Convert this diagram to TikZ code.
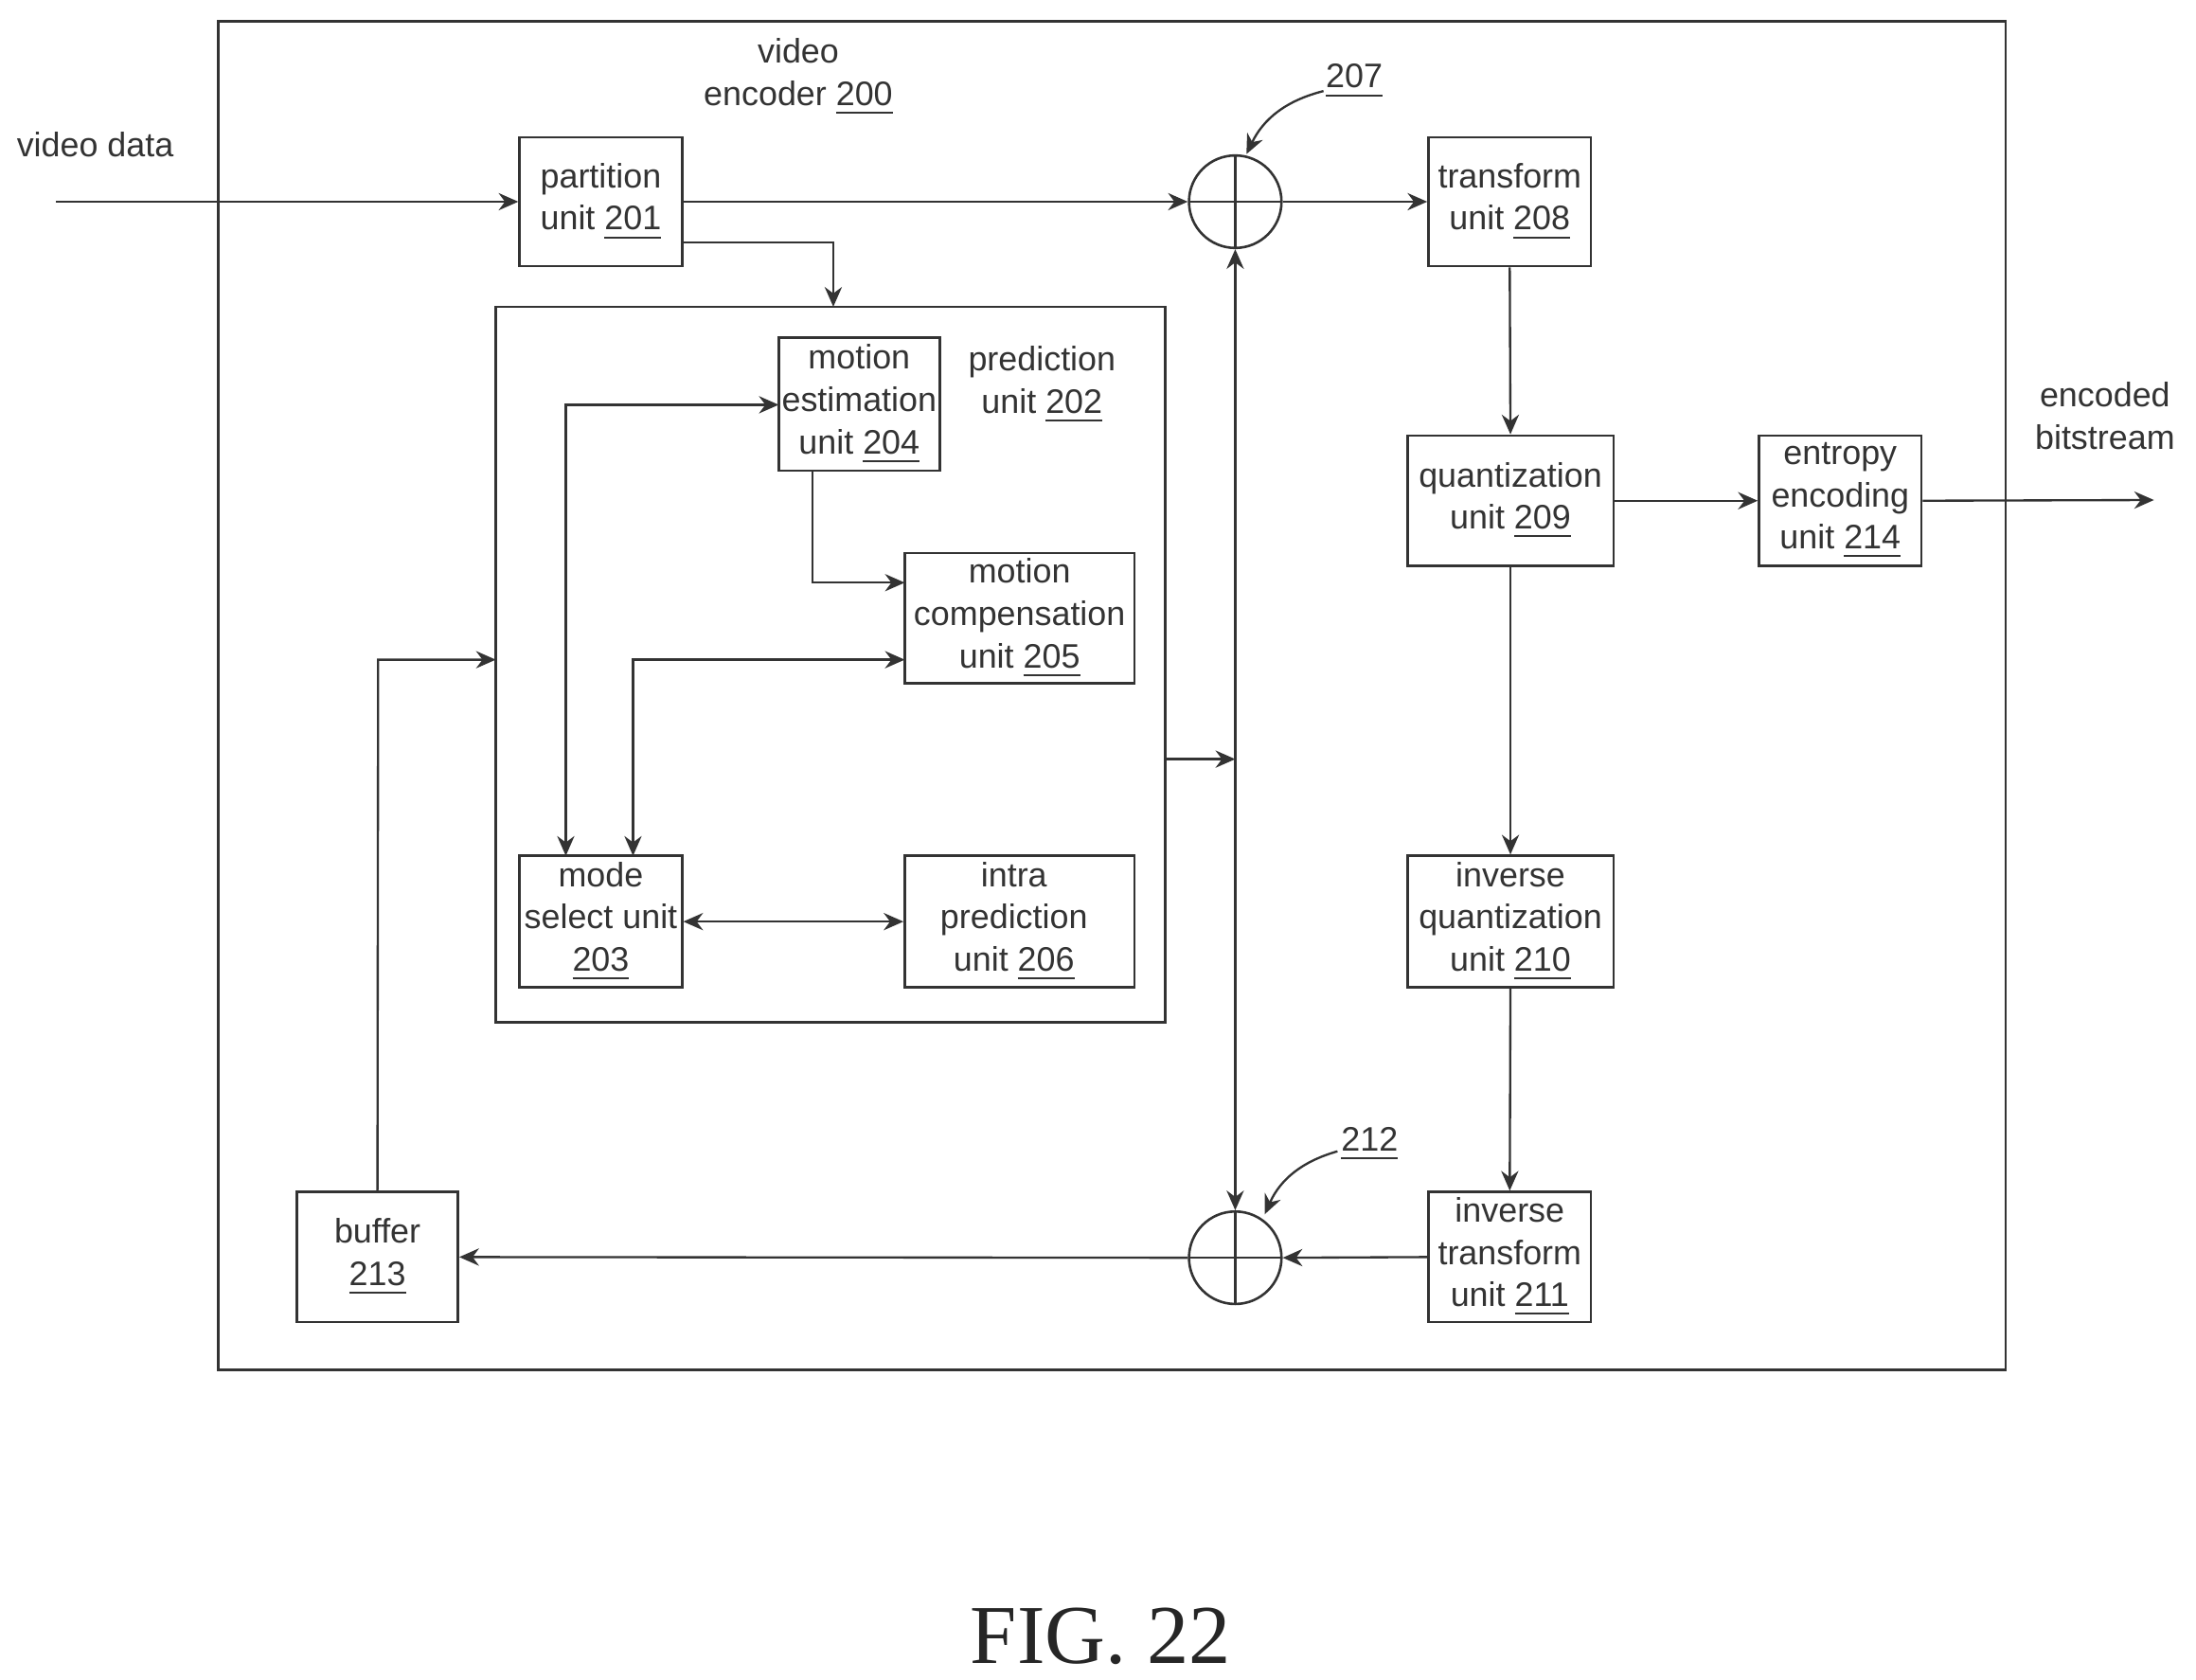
\documentclass[tikz,border=0pt]{standalone}
\usepackage{fontspec}
\setmainfont{Liberation Sans}
\newfontfamily\figfont{Liberation Serif}
\usetikzlibrary{arrows.meta}
\begin{document}
\begin{tikzpicture}[x=0.01cm,y=-0.01cm,
  txt/.style={font=\fontsize{6.9}{8.6}\selectfont,align=center,text=black!80},
  box/.style={draw=black!80,line width=0.5pt},
  ar/.style={-{Stealth[length=4pt,width=3.5pt]},line width=0.45pt,draw=black!80},
  dar/.style={{Stealth[length=4pt,width=3.5pt]}-{Stealth[length=4pt,width=3.5pt]},line width=0.45pt,draw=black!80}]
\useasboundingbox (0,0) rectangle (1568,1199);
\draw[box] (156,15) rectangle (1432,978);
\draw[box] (354,219) rectangle (832,730);
\node[box,minimum width=1.16cm,minimum height=0.92cm] (p201) at (429,144) {};
\node[txt] at (429,144) {partition\\unit \underline{201}};
\node[box,minimum width=1.15cm,minimum height=0.95cm] (m204) at (613.5,288.5) {};
\node[txt] at (613.5,288.5) {motion\\estimation\\unit \underline{204}};
\node[box,minimum width=1.64cm,minimum height=0.93cm] (m205) at (728,441.5) {};
\node[txt] at (728,441.5) {motion\\compensation\\unit \underline{205}};
\node[box,minimum width=1.16cm,minimum height=0.94cm] (m203) at (429,658) {};
\node[txt] at (429,658) {mode\\select unit\\\underline{203}};
\node[box,minimum width=1.64cm,minimum height=0.94cm] (i206) at (728,658) {};
\node[txt] at (724,658) {intra\\prediction\\unit \underline{206}};
\node[box,circle,minimum size=0.66cm,inner sep=0pt] (s207) at (882,144) {};
\draw[box] (849,144)--(915,144) (882,111)--(882,177);
\node[box,minimum width=1.16cm,minimum height=0.92cm] (t208) at (1078,144) {};
\node[txt] at (1078,144) {transform\\unit \underline{208}};
\node[box,minimum width=1.47cm,minimum height=0.93cm] (q209) at (1078.5,357.5) {};
\node[txt] at (1078.5,357.5) {quantization\\unit \underline{209}};
\node[box,minimum width=1.16cm,minimum height=0.93cm] (e214) at (1314,357.5) {};
\node[txt] at (1314,357.5) {entropy\\encoding\\unit \underline{214}};
\node[box,minimum width=1.47cm,minimum height=0.94cm] (q210) at (1078.5,658) {};
\node[txt] at (1078.5,658) {inverse\\quantization\\unit \underline{210}};
\node[box,minimum width=1.16cm,minimum height=0.93cm] (t211) at (1078,897.5) {};
\node[txt] at (1078,897.5) {inverse\\transform\\unit \underline{211}};
\node[box,circle,minimum size=0.66cm,inner sep=0pt] (s212) at (882,898) {};
\draw[box] (849,898)--(915,898) (882,865)--(882,931);
\node[box,minimum width=1.15cm,minimum height=0.93cm] (b213) at (269.5,897.5) {};
\node[txt] at (269.5,897.5) {buffer\\\underline{213}};
\node[txt] (lvd) at (68,103) {video data};
\node[txt] (leb) at (1503,297) {encoded\\bitstream};
\node[txt] (lve) at (570,55) {video\\encoder \underline{200}};
\node[txt] (lpu) at (744,275) {prediction\\unit \underline{202}};
\node[txt] (l207) at (967,58) {\underline{207}};
\node[txt] (l212) at (978,817) {\underline{212}};
\node[font=\figfont\fontsize{17}{20}\selectfont,text=black!85] (fig) at (786,1168) {FIG. 22};
\coordinate (vin) at (40,144);
\coordinate (vout) at (1538,357);
\draw[ar] (945,65) to[bend right=25] (890,110);
\draw[ar] (955,822) to[bend right=25] (903,867);
\draw[ar] (vin) -- (p201.west);
\draw[ar] (p201.east) -- (s207.west);
\draw[ar] (487,173) -- (595,173) -- (595,219);
\draw[ar] (s207.east) -- (t208.west);
\draw[ar] (t208.south) -- (q209.north);
\draw[ar] (q209.east) -- (e214.west);
\draw[ar] (e214.east) -- (vout);
\draw[ar] (q209.south) -- (q210.north);
\draw[ar] (q210.south) -- (t211.north);
\draw[ar] (t211.west) -- (s212.east);
\draw[ar] (s212.west) -- (b213.east);
\draw[ar] (b213.north) -- (270,471) -- (354,471);
\draw[ar] (832,542) -- (882,542);
\draw[dar] (s207.south) -- (s212.north);
\draw[dar] (556,289) -- (404,289) -- (404,611);
\draw[ar] (580,336) -- (580,416) -- (646,416);
\draw[dar] (646,471) -- (452,471) -- (452,611);
\draw[dar] (m203.east) -- (i206.west);
\end{tikzpicture}
\end{document}
